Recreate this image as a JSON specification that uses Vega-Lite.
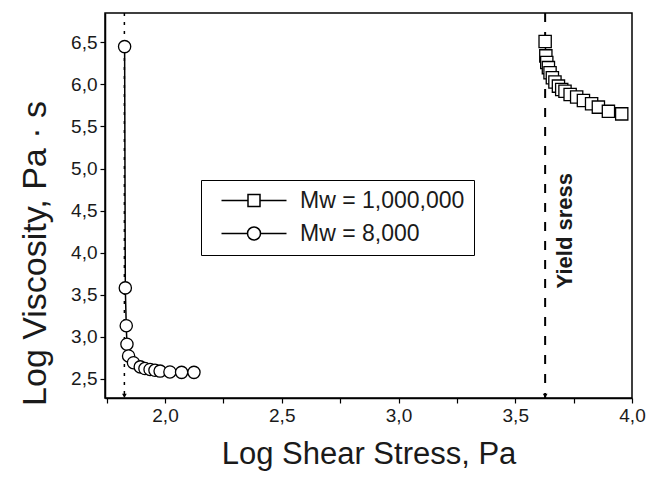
{
  "$schema": "https://vega.github.io/schema/vega-lite/v6.json",
  "width": 527,
  "height": 385,
  "autosize": "none",
  "padding": {"left": 105, "top": 13, "right": 17, "bottom": 80},
  "background": "white",
  "config": {
    "view": {"stroke": "black", "strokeWidth": 1.5},
    "font": "Liberation Sans",
    "axis": {
      "grid": false,
      "domainColor": "black",
      "domainWidth": 1.5,
      "tickColor": "black",
      "tickWidth": 1.2,
      "tickSize": 5,
      "labelFont": "Liberation Sans",
      "labelFontSize": 19,
      "labelColor": "#1a1a1a",
      "titleFont": "Liberation Sans",
      "titleFontWeight": "normal",
      "titleColor": "#1a1a1a"
    }
  },
  "datasets": {
    "pts": [
      {"series": "Mw = 1,000,000", "x": 3.628, "y": 6.51},
      {"series": "Mw = 1,000,000", "x": 3.631, "y": 6.34},
      {"series": "Mw = 1,000,000", "x": 3.635, "y": 6.26},
      {"series": "Mw = 1,000,000", "x": 3.642, "y": 6.2},
      {"series": "Mw = 1,000,000", "x": 3.649, "y": 6.14},
      {"series": "Mw = 1,000,000", "x": 3.659, "y": 6.08},
      {"series": "Mw = 1,000,000", "x": 3.67, "y": 6.03},
      {"series": "Mw = 1,000,000", "x": 3.685, "y": 5.98},
      {"series": "Mw = 1,000,000", "x": 3.699, "y": 5.94},
      {"series": "Mw = 1,000,000", "x": 3.713, "y": 5.92},
      {"series": "Mw = 1,000,000", "x": 3.735, "y": 5.88},
      {"series": "Mw = 1,000,000", "x": 3.763, "y": 5.85},
      {"series": "Mw = 1,000,000", "x": 3.792, "y": 5.81},
      {"series": "Mw = 1,000,000", "x": 3.827, "y": 5.77},
      {"series": "Mw = 1,000,000", "x": 3.856, "y": 5.73},
      {"series": "Mw = 1,000,000", "x": 3.899, "y": 5.68},
      {"series": "Mw = 1,000,000", "x": 3.956, "y": 5.65},
      {"series": "Mw = 8,000", "x": 1.827, "y": 6.45},
      {"series": "Mw = 8,000", "x": 1.83, "y": 3.58},
      {"series": "Mw = 8,000", "x": 1.834, "y": 3.13},
      {"series": "Mw = 8,000", "x": 1.837, "y": 2.91},
      {"series": "Mw = 8,000", "x": 1.844, "y": 2.77},
      {"series": "Mw = 8,000", "x": 1.865, "y": 2.69},
      {"series": "Mw = 8,000", "x": 1.894, "y": 2.64},
      {"series": "Mw = 8,000", "x": 1.914, "y": 2.62},
      {"series": "Mw = 8,000", "x": 1.936, "y": 2.61},
      {"series": "Mw = 8,000", "x": 1.957, "y": 2.6},
      {"series": "Mw = 8,000", "x": 1.979, "y": 2.59},
      {"series": "Mw = 8,000", "x": 2.021, "y": 2.58},
      {"series": "Mw = 8,000", "x": 2.071, "y": 2.575},
      {"series": "Mw = 8,000", "x": 2.124, "y": 2.575}
    ]
  },
  "resolve": {"scale": {"shape": "independent"}},
  "layer": [
    {
      "data": {"values": [{"x": 1.826}]},
      "mark": {"type": "rule", "color": "black", "strokeWidth": 1.5, "strokeDash": [3, 6]},
      "encoding": {
        "x": {"field": "x", "type": "quantitative", "scale": {"domain": [1.743, 4.0], "nice": false, "zero": false}}
      }
    },
    {
      "data": {"values": [{"x": 3.628}]},
      "mark": {"type": "rule", "color": "black", "strokeWidth": 2, "strokeDash": [9, 10]},
      "encoding": {
        "x": {"field": "x", "type": "quantitative"}
      }
    },
    {
      "data": {"values": [{"x": 1.826, "y": 2.295}, {"x": 3.628, "y": 2.295}]},
      "mark": {"type": "point", "shape": "triangle-down", "filled": true, "color": "black", "size": 22, "opacity": 1},
      "encoding": {
        "x": {"field": "x", "type": "quantitative"},
        "y": {"field": "y", "type": "quantitative"}
      }
    },
    {
      "data": {"name": "pts"},
      "mark": {"type": "line", "color": "black", "strokeWidth": 1.5},
      "encoding": {
        "x": {"field": "x", "type": "quantitative"},
        "y": {"field": "y", "type": "quantitative"},
        "detail": {"field": "series"}
      }
    },
    {
      "data": {"name": "pts"},
      "mark": {"type": "point", "filled": true, "fill": "white", "stroke": "black", "strokeWidth": 1.3, "size": 150, "opacity": 1},
      "encoding": {
        "x": {
          "field": "x", "type": "quantitative",
          "title": "Log Shear Stress, Pa",
          "axis": {
            "values": [1.75, 2, 2.25, 2.5, 2.75, 3, 3.25, 3.5, 3.75, 4],
            "labelExpr": "(round(datum.value*100) % 50 == 0) ? replace(format(datum.value, '.1f'), '.', ',') : ''",
            "labelPadding": 3,
            "titlePadding": 14,
            "titleFontSize": 31,
            "labelFlush": false
          }
        },
        "y": {
          "field": "y", "type": "quantitative",
          "scale": {"domain": [2.27, 6.85], "nice": false, "zero": false},
          "title": "Log Viscosity, Pa · s",
          "axis": {
            "values": [2.5, 2.75, 3, 3.25, 3.5, 3.75, 4, 4.25, 4.5, 4.75, 5, 5.25, 5.5, 5.75, 6, 6.25, 6.5, 6.75],
            "labelExpr": "(round(datum.value*100) % 50 == 0) ? replace(format(datum.value, '.1f'), '.', ',') : ''",
            "labelPadding": 3,
            "titlePadding": 18,
            "titleFontSize": 34,
            "titleY": 240,
            "labelFlush": false
          }
        },
        "shape": {
          "field": "series", "type": "nominal",
          "scale": {"domain": ["Mw = 1,000,000", "Mw = 8,000"], "range": ["square", "circle"]},
          "legend": null
        }
      }
    },
    {
      "data": {"name": "pts"},
      "transform": [{"filter": "false"}],
      "mark": {"type": "point", "filled": false, "stroke": "black", "strokeWidth": 1.3, "opacity": 1},
      "encoding": {
        "x": {"field": "x", "type": "quantitative"},
        "y": {"field": "y", "type": "quantitative"},
        "shape": {
          "field": "series", "type": "nominal",
          "scale": {
            "domain": ["Mw = 1,000,000", "Mw = 8,000"],
            "range": [
              "M-1,0H1.65M2.85,0H5.5M1.65,-0.6H2.85V0.6H1.65Z",
              "M-1,0H1.6M2.9,0H5.5M1.6,0A0.65,0.65,0,1,0,2.9,0A0.65,0.65,0,1,0,1.6,0Z"
            ]
          },
          "legend": {
            "title": null,
            "orient": "none",
            "legendX": 96,
            "legendY": 167,
            "direction": "vertical",
            "strokeColor": "black",
            "fillColor": "white",
            "padding": 9,
            "symbolOffset": 10,
            "symbolSize": 400,
            "labelOffset": 57,
            "labelFontSize": 23,
            "labelLimit": 400,
            "labelFont": "Liberation Sans",
            "labelColor": "#1a1a1a",
            "rowPadding": 9,
            "labelExpr": "datum.label + '\u00a0\u00a0'",
            "encode": {
              "legend": {"update": {"strokeWidth": {"value": 1.3}}},
              "symbols": {
                "update": {
                  "size": {"value": 400},
                  "fill": {"value": "white"},
                  "stroke": {"value": "black"},
                  "strokeWidth": {"value": 1.3},
                  "opacity": {"value": 1},
                  "fillOpacity": {"value": 1},
                  "strokeOpacity": {"value": 1}
                }
              }
            }
          }
        }
      }
    },
    {
      "data": {"values": [{"x": 3.713, "y": 4.26, "t": "Yield sress"}]},
      "mark": {"type": "text", "angle": 270, "align": "center", "baseline": "middle", "font": "Liberation Sans", "fontWeight": "bold", "fontSize": 22, "color": "#1a1a1a"},
      "encoding": {
        "x": {"field": "x", "type": "quantitative"},
        "y": {"field": "y", "type": "quantitative"},
        "text": {"field": "t"}
      }
    }
  ]
}
